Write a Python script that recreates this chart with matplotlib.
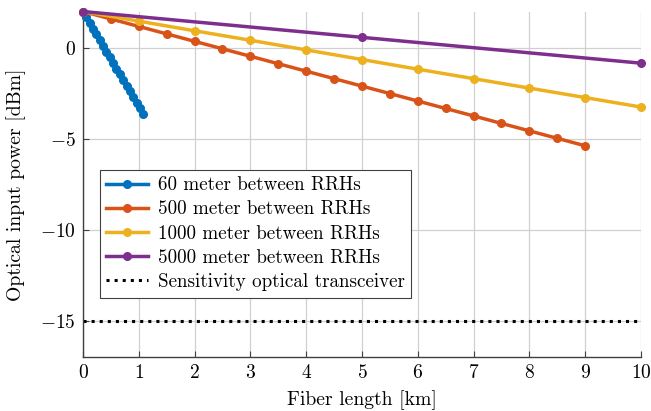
import matplotlib.pyplot as plt

plt.rcParams['font.family'] = 'serif'
plt.rcParams['font.serif'] = ['cmr10']
plt.rcParams['mathtext.fontset'] = 'cm'
plt.rcParams['axes.formatter.use_mathtext'] = True

# data
x_60 = [0.0, 0.06, 0.12, 0.18, 0.24, 0.30, 0.36, 0.42, 0.48, 0.54,
        0.60, 0.66, 0.72, 0.78, 0.84, 0.90, 0.96, 1.02, 1.08]
p_60 = [2.0, 1.69, 1.37, 1.06, 0.75, 0.43, 0.12, -0.20, -0.51, -0.82,
        -1.14, -1.45, -1.76, -2.08, -2.39, -2.70, -3.02, -3.33, -3.64]

x_500 = [0.0, 0.5, 1.0, 1.5, 2.0, 2.5, 3.0, 3.5, 4.0, 4.5,
         5.0, 5.5, 6.0, 6.5, 7.0, 7.5, 8.0, 8.5, 9.0]
p_500 = [2.0, 1.59, 1.18, 0.77, 0.36, -0.05, -0.46, -0.87, -1.28, -1.69,
         -2.10, -2.51, -2.92, -3.33, -3.74, -4.15, -4.56, -4.97, -5.38]

x_1000 = [0, 1, 2, 3, 4, 5, 6, 7, 8, 9, 10]
p_1000 = [2.0, 1.47, 0.94, 0.42, -0.11, -0.64, -1.17, -1.69, -2.21, -2.73, -3.25]

x_5000 = [0, 5, 10]
p_5000 = [2.0, 0.58, -0.84]

sens_x = [0, 10]
sens = [-15, -15]

labels = ['60 meter between RRHs', '500 meter between RRHs',
          '1000 meter between RRHs', '5000 meter between RRHs',
          'Sensitivity optical transceiver']
colors = ['#0072BD', '#D95319', '#EDB120', '#7E2F8E']

fig = plt.figure(figsize=(6.51, 4.11), dpi=100)
ax = fig.add_axes([0.1275, 0.131, 0.857, 0.841])

series = [(x_60, p_60), (x_500, p_500), (x_1000, p_1000), (x_5000, p_5000)]
for (xs, ys), c, lab in zip(series, colors, labels):
    ax.plot(xs, ys, '-o', color=c, lw=2.5, ms=5.5, label=lab, clip_on=False, zorder=3)
ax.plot(sens_x, sens, ':', color='black', lw=2.2, label=labels[4])

ax.set_xlim(0, 10)
ax.set_ylim(-17, 2)
ax.set_xticks(range(0, 11))
ax.set_yticks([-15, -10, -5, 0])
ax.grid(True, color='#d0d0d0', lw=0.9)
ax.set_axisbelow(True)
ax.tick_params(direction='in', length=4, labelsize=14, color='#404040', pad=5)
ax.spines['top'].set_visible(False)
ax.spines['right'].set_visible(False)
for s in ['left', 'bottom']:
    ax.spines[s].set_color('#404040')
    ax.spines[s].set_linewidth(1.0)

ax.set_xlabel('Fiber length [km]', fontsize=14.2, labelpad=6)
ax.set_ylabel('Optical input power [dBm]', fontsize=14.2, labelpad=10)

leg = ax.legend(loc='lower left', bbox_to_anchor=(0.03, 0.172), fontsize=13.7,
                fancybox=False, framealpha=1, edgecolor='#404040',
                handlelength=2.2, borderpad=0.35, labelspacing=0.33,
                handletextpad=0.5, borderaxespad=0)
leg.get_frame().set_linewidth(0.8)

fig.savefig('out.png', dpi=100)
